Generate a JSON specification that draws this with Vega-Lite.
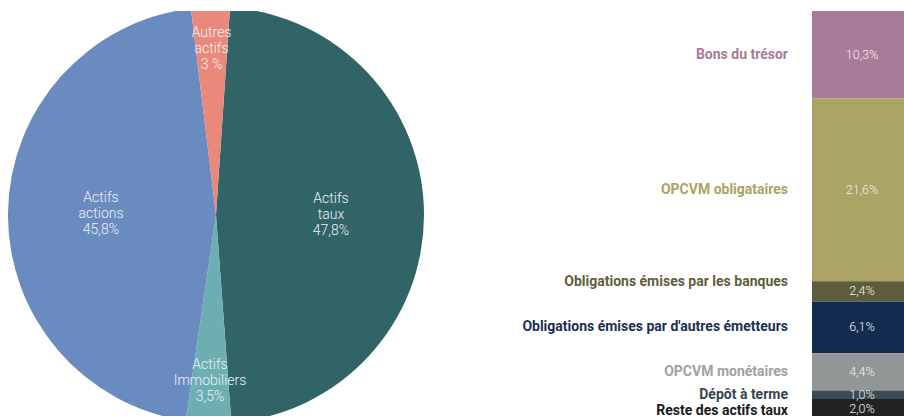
{
  "$schema": "https://vega.github.io/schema/vega-lite/v6.json",
  "background": "white",
  "padding": {"left": 8, "top": 11, "right": 0, "bottom": 1},
  "spacing": 388,
  "bounds": "flush",
  "config": {"view": {"stroke": null}, "font": "Roboto"},
  "datasets": {
    "pie": [
      {"asset": "Actifs taux", "value": 47.8, "label": "Actifs\ntaux\n47,8%", "rank": 1},
      {"asset": "Actifs Immobiliers", "value": 3.5, "label": "Actifs\nImmobiliers\n3,5%", "rank": 2},
      {"asset": "Actifs actions", "value": 45.8, "label": "Actifs\nactions\n45,8%", "rank": 3},
      {"asset": "Autres actifs", "value": 3.0, "label": "Autres\nactifs\n3 %", "rank": 4}
    ],
    "bar": [
      {"component": "Bons du trésor", "value": 10.3, "pct": "10,3%", "rank": 1},
      {"component": "OPCVM obligataires", "value": 21.6, "pct": "21,6%", "rank": 2},
      {"component": "Obligations émises par les banques", "value": 2.4, "pct": "2,4%", "rank": 3},
      {"component": "Obligations émises par d'autres émetteurs", "value": 6.1, "pct": "6,1%", "rank": 4},
      {"component": "OPCVM monétaires", "value": 4.4, "pct": "4,4%", "rank": 5},
      {"component": "Dépôt à terme", "value": 1.0, "pct": "1,0%", "rank": 6},
      {"component": "Reste des actifs taux", "value": 2.0, "pct": "2,0%", "rank": 7}
    ]
  },
  "resolve": {"scale": {"color": "independent", "y": "independent", "x": "independent"}},
  "hconcat": [
    {
      "width": 416,
      "height": 405,
      "data": {"name": "pie"},
      "encoding": {
        "theta": {"field": "value", "type": "quantitative", "stack": true, "scale": {"range": [0.0674, 6.3506]}},
        "order": {"field": "rank", "type": "quantitative"}
      },
      "layer": [
        {
          "mark": {"type": "arc", "outerRadius": 208, "yOffset": 1.5, "clip": true},
          "encoding": {
            "color": {
              "field": "asset", "type": "nominal", "legend": null,
              "scale": {
                "domain": ["Actifs taux", "Actifs Immobiliers", "Actifs actions", "Autres actifs"],
                "range": ["#306467", "#6daeb0", "#698bbf", "#e9897b"]
              }
            }
          }
        },
        {
          "mark": {"type": "text", "radius": 115, "yOffset": 1.5, "dy": -16, "lineBreak": "\n", "lineHeight": 16, "fontSize": 14, "fontWeight": 300, "color": "#eef2f7"},
          "encoding": {
            "text": {"condition": {"test": "datum.value > 10", "field": "label"}, "value": ""}
          }
        },
        {
          "mark": {"type": "text", "radius": 166, "yOffset": 1.5, "dy": -16, "lineBreak": "\n", "lineHeight": 16, "fontSize": 14, "fontWeight": 300, "color": "#eef2f7"},
          "encoding": {
            "text": {"condition": {"test": "datum.value < 10", "field": "label"}, "value": ""}
          }
        }
      ]
    },
    {
      "width": 92,
      "height": 405,
      "data": {"name": "bar"},
      "encoding": {
        "y": {"field": "value", "type": "quantitative", "stack": true, "scale": {"reverse": true, "nice": false, "domain": [0, 47.8]}, "axis": null},
        "order": {"field": "rank", "type": "quantitative"}
      },
      "layer": [
        {
          "mark": {"type": "bar", "orient": "vertical"},
          "encoding": {
            "x": {"datum": 0, "type": "quantitative", "scale": {"domain": [0, 1], "padding": 0, "nice": false}, "axis": null},
            "x2": {"datum": 1},
            "color": {
              "field": "component", "type": "nominal", "legend": null,
              "scale": {
                "domain": ["Bons du trésor", "OPCVM obligataires", "Obligations émises par les banques", "Obligations émises par d'autres émetteurs", "OPCVM monétaires", "Dépôt à terme", "Reste des actifs taux"],
                "range": ["#aa7b99", "#a9a463", "#5f5c3e", "#132b4f", "#939696", "#3a4b54", "#222222"]
              }
            }
          }
        },
        {
          "mark": {"type": "text", "fontSize": 12.5, "fontWeight": 300, "color": "#f2f2f2", "dx": 4},
          "encoding": {
            "y": {"field": "value", "type": "quantitative", "stack": true, "bandPosition": 0.5},
            "text": {"condition": {"test": "datum.rank !== 7", "field": "pct"}, "value": ""}
          }
        },
        {
          "mark": {"type": "text", "fontSize": 12.5, "fontWeight": 300, "color": "#f2f2f2", "dx": 4, "dy": 1.5},
          "encoding": {
            "y": {"field": "value", "type": "quantitative", "stack": true, "bandPosition": 0.5},
            "text": {"condition": {"test": "datum.rank === 7", "field": "pct"}, "value": ""}
          }
        },
        {
          "mark": {"type": "text", "align": "right", "dx": -70, "fontSize": 14, "fontWeight": "bold"},
          "encoding": {
            "y": {"field": "value", "type": "quantitative", "stack": true, "bandPosition": 0.5},
            "text": {"condition": {"test": "datum.rank !== 3 && datum.rank !== 7", "field": "component"}, "value": ""},
            "color": {
              "field": "component", "type": "nominal", "legend": null,
              "scale": {
                "domain": ["Bons du trésor", "OPCVM obligataires", "Obligations émises par les banques", "Obligations émises par d'autres émetteurs", "OPCVM monétaires", "Dépôt à terme", "Reste des actifs taux"],
                "range": ["#a97b98", "#a9a463", "#5f5c3e", "#1b2f52", "#a0a2a2", "#34454f", "#1a1a1a"]
              }
            }
          }
        },
        {
          "mark": {"type": "text", "align": "right", "dx": -70, "dy": -9, "fontSize": 14, "fontWeight": "bold", "color": "#5f5c3e"},
          "encoding": {
            "y": {"field": "value", "type": "quantitative", "stack": true, "bandPosition": 0.5},
            "text": {"condition": {"test": "datum.rank === 3", "field": "component"}, "value": ""}
          }
        },
        {
          "mark": {"type": "text", "align": "right", "dx": -70, "dy": 3, "fontSize": 14, "fontWeight": "bold", "color": "#1a1a1a"},
          "encoding": {
            "y": {"field": "value", "type": "quantitative", "stack": true, "bandPosition": 0.5},
            "text": {"condition": {"test": "datum.rank === 7", "field": "component"}, "value": ""}
          }
        }
      ],
      "resolve": {"scale": {"color": "independent"}}
    }
  ]
}
